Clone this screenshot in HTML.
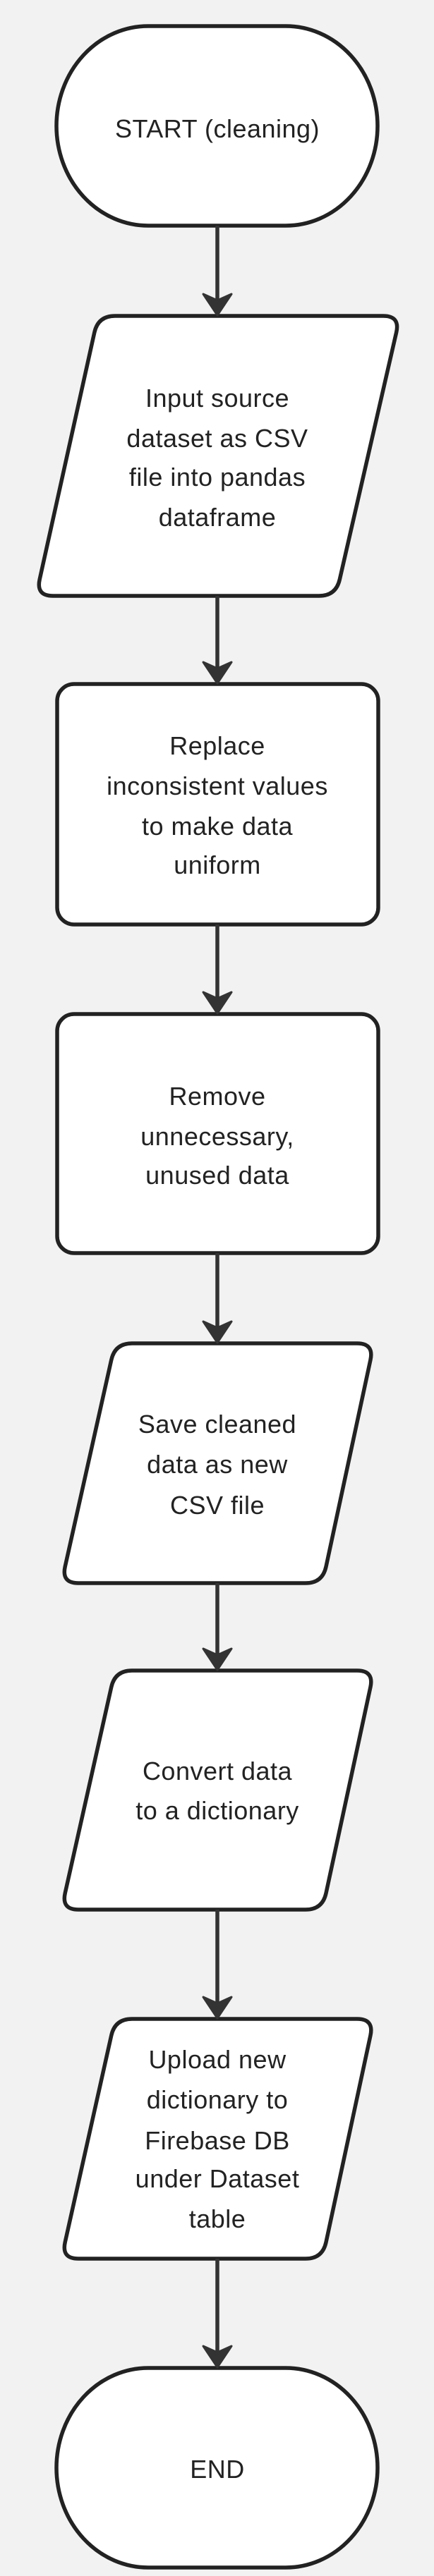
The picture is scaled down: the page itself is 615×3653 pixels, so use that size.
<!DOCTYPE html>
<html><head><meta charset="utf-8"><style>
html,body{margin:0;padding:0;background:#f2f2f2;}
svg{display:block;}
text{font-family:"Liberation Sans",sans-serif;font-size:36px;fill:#222;text-anchor:middle;letter-spacing:0.5px;}
</style></head><body>
<svg id="s" width="615" height="3653" viewBox="0 0 615 3653" xmlns="http://www.w3.org/2000/svg">
<rect width="615" height="3653" fill="#f2f2f2"/>
<g id="shapes" fill="#fff" stroke="#222" stroke-width="5.5">
<rect x="80" y="37" width="455" height="283" rx="130" ry="141.5"/>
<rect x="81" y="970" width="455" height="341" rx="24"/>
<rect x="81" y="1438" width="455" height="339" rx="24"/>
<rect x="80" y="3358" width="455" height="283" rx="130" ry="141.5"/>
</g>
<g id="arrows" stroke="#333" stroke-width="5.5" fill="#333"></g>
<g id="txt">
<text x="308" y="195">START (cleaning)</text>
<text x="308" y="577">Input source</text>
<text x="308" y="634">dataset as CSV</text>
<text x="308" y="689">file into pandas</text>
<text x="308" y="746">dataframe</text>
<text x="308" y="1070">Replace</text>
<text x="308" y="1127">inconsistent values</text>
<text x="308" y="1184">to make data</text>
<text x="308" y="1239">uniform</text>
<text x="308" y="1567">Remove</text>
<text x="308" y="1624">unnecessary,</text>
<text x="308" y="1679">unused data</text>
<text x="308" y="2032">Save cleaned</text>
<text x="308" y="2089">data as new</text>
<text x="308" y="2147">CSV file</text>
<text x="308" y="2524">Convert data</text>
<text x="308" y="2580">to a dictionary</text>
<text x="308" y="2933">Upload new</text>
<text x="308" y="2990">dictionary to</text>
<text x="308" y="3048">Firebase DB</text>
<text x="308" y="3102">under Dataset</text>
<text x="308" y="3159">table</text>
<text x="308" y="3514">END</text>
</g>
</svg>
<script>
(function(){
var NS="http://www.w3.org/2000/svg";
var shapes=document.getElementById("shapes");
function rounded(pts,r){
  var n=pts.length,d="";
  for(var i=0;i<n;i++){
    var p=pts[i],a=pts[(i-1+n)%n],b=pts[(i+1)%n];
    var v1=[a[0]-p[0],a[1]-p[1]],v2=[b[0]-p[0],b[1]-p[1]];
    var l1=Math.hypot(v1[0],v1[1]),l2=Math.hypot(v2[0],v2[1]);
    var s=[p[0]+v1[0]/l1*r,p[1]+v1[1]/l1*r],e=[p[0]+v2[0]/l2*r,p[1]+v2[1]/l2*r];
    d+=(i==0?"M":"L")+s[0]+","+s[1]+" Q"+p[0]+","+p[1]+" "+e[0]+","+e[1]+" ";
  }
  return d+"Z";
}
var paras=[
 [[139,448],[567,448],[476,845],[51,845]],
 [[163,1905],[530,1905],[457,2245],[87,2245]],
 [[163,2369],[530,2369],[457,2708],[87,2708]],
 [[163,2863],[530,2863],[457,3203],[87,3203]]
];
paras.forEach(function(p){
  var el=document.createElementNS(NS,"path");
  el.setAttribute("d",rounded(p,24));
  shapes.appendChild(el);
});
var arrows=document.getElementById("arrows");
var segs=[[320,448],[845,970],[1311,1438],[1777,1905],[2245,2369],[2708,2863],[3203,3358]];
var cx=308;
segs.forEach(function(s){
  var l=document.createElementNS(NS,"line");
  l.setAttribute("x1",cx);l.setAttribute("x2",cx);
  l.setAttribute("y1",s[0]);l.setAttribute("y2",s[1]-20);
  arrows.appendChild(l);
  var h=document.createElementNS(NS,"path");
  var t=s[1];
  h.setAttribute("d","M"+(cx-20)+","+(t-31)+" L"+cx+","+(t-1)+" L"+(cx+20)+","+(t-31)+" L"+cx+","+(t-22)+" Z");
  h.setAttribute("stroke-linejoin","round");
  h.setAttribute("stroke-width","3");
  arrows.appendChild(h);
});
})();
</script>
</body></html>
